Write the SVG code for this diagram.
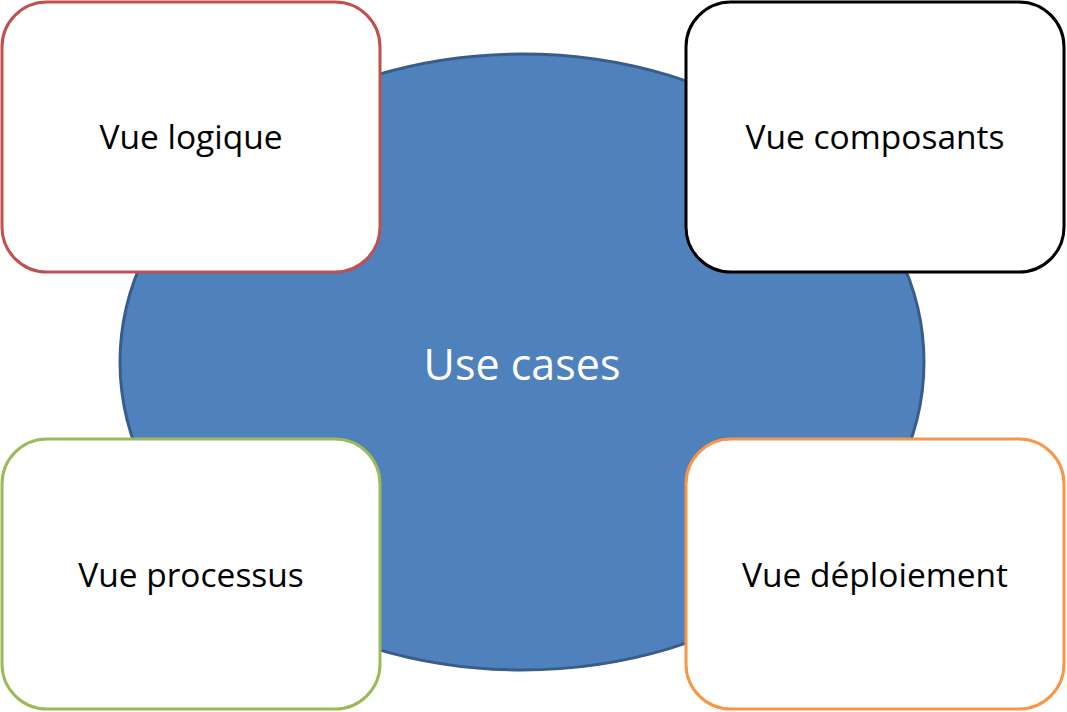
<svg xmlns="http://www.w3.org/2000/svg" width="1067" height="712" viewBox="0 0 1067 712">
<style>
.box{fill:#FFFFFF;stroke-width:3}
.lbl{font-family:"Open Sans","Liberation Sans",sans-serif;font-size:33.5px;fill:#000000;text-anchor:middle}
.main{font-family:"Open Sans","Liberation Sans",sans-serif;font-size:43px;fill:#FFFFFF;text-anchor:middle}
</style>
<rect width="1067" height="712" fill="#FFFFFF"/>
<g id="connectors"></g>
<g id="use-cases">
<ellipse cx="522" cy="362" rx="402" ry="308" fill="#4F81BD" stroke="#385D8A" stroke-width="3"/>
<text class="main" x="522" y="380">Use cases</text>
</g>
<g id="vue-logique">
<rect class="box" x="2" y="2" width="378" height="270" rx="45" ry="45" stroke="#C0504D"/>
<text class="lbl" x="191" y="149">Vue logique</text>
</g>
<g id="vue-composants">
<rect class="box" x="686" y="2" width="378" height="270" rx="45" ry="45" stroke="#000000"/>
<text class="lbl" x="875" y="149">Vue composants</text>
</g>
<g id="vue-processus">
<rect class="box" x="2" y="439" width="378" height="270" rx="45" ry="45" stroke="#9BBB59"/>
<text class="lbl" x="191" y="587">Vue processus</text>
</g>
<g id="vue-deploiement">
<rect class="box" x="686" y="439" width="378" height="270" rx="45" ry="45" stroke="#F79646"/>
<text class="lbl" x="875" y="587">Vue déploiement</text>
</g>
</svg>
